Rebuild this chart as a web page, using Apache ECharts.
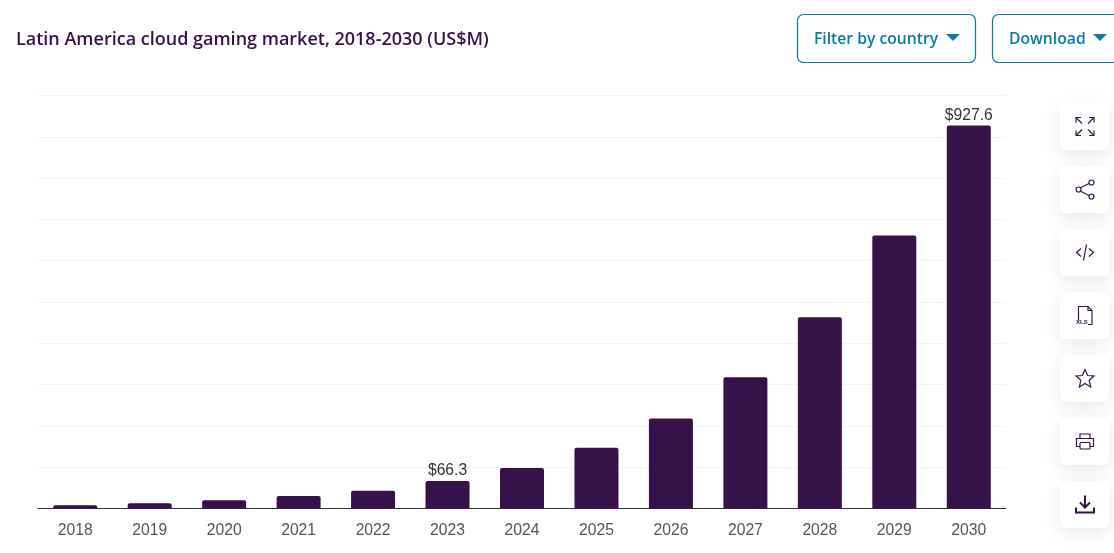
<!DOCTYPE html>
<html lang="en">
<head>
    <meta charset="UTF-8">
    <title>Latin America cloud gaming market</title>
    <script src="https://cdn.jsdelivr.net/npm/echarts@6/dist/echarts.min.js"></script>
    <style>
      html, body { margin: 0; padding: 0; background: #fff; overflow: hidden; }
    </style>
</head>
<body>
<div id="chart" style="width: 1114px; height: 553px;"></div>
<script>
  var titleText = 'Latin America cloud gaming market, 2018-2030 (US$M)';
  var years = ['2018', '2019', '2020', '2021', '2022', '2023', '2024', '2025', '2026', '2027', '2028', '2029', '2030'];
  var revenue = [8, 13, 20, 30, 43, 66.3, 98, 147, 218, 318, 463, 661, 927.6];
  var labelledYears = ['2023', '2030'];

  var purple = '#36114a';
  var teal = '#0b7aa3';

  // toolbar card with the icon drawn around its centre
  function card(cy, shapes) {
    var line = { stroke: purple, lineWidth: 1.15, fill: 'none' };
    return [{
      type: 'rect',
      shape: { x: 1060, y: cy - 23.5, width: 49, height: 47, r: 6 },
      style: { fill: '#fff', shadowBlur: 18, shadowColor: 'rgba(0,0,0,0.09)', shadowOffsetY: 5 }
    }].concat(shapes.map(function (s) {
      var style = Object.assign({}, line, s.style || {});
      return { type: s.type, x: 1085, y: cy, shape: s.shape, style: style };
    }));
  }
  function pl(points, style) {
    return { type: 'polyline', shape: { points: points }, style: style };
  }

  var icons = [
    card(126.5, [
      pl([[-9, -4], [-9, -9], [-4, -9]]), pl([[-8.5, -8.5], [-3, -3]]),
      pl([[4, -9], [9, -9], [9, -4]]), pl([[8.5, -8.5], [3, -3]]),
      pl([[-9, 4], [-9, 9], [-4, 9]]), pl([[-8.5, 8.5], [-3, 3]]),
      pl([[4, 9], [9, 9], [9, 4]]), pl([[8.5, 8.5], [3, 3]])
    ]),
    card(189.5, [
      pl([[-6, -1], [6, -7]]), pl([[-6, 1], [6, 7]]),
      { type: 'circle', shape: { cx: -6.5, cy: 0, r: 2.5 }, style: { fill: '#fff' } },
      { type: 'circle', shape: { cx: 6.5, cy: -7, r: 2.5 }, style: { fill: '#fff' } },
      { type: 'circle', shape: { cx: 6.5, cy: 7, r: 2.5 }, style: { fill: '#fff' } }
    ]),
    card(252.5, [
      pl([[-4, -4], [-8.5, 0], [-4, 4]]), pl([[4, -4], [8.5, 0], [4, 4]]), pl([[1.5, -8], [-1.5, 8]])
    ]),
    card(315.5, [
      pl([[-6.5, 5], [-6.5, -9], [3, -9], [7, -5], [7, 9], [3, 9]]), pl([[3, -9], [3, -5], [7, -5]])
    ].concat([{
      type: 'text', shape: null,
      style: { text: 'XLS', x: -9, y: 4, fontSize: 6, fontWeight: 700, fontFamily: 'Liberation Sans', fill: purple, stroke: null, lineWidth: 0 }
    }])),
    card(378.5, [
      { type: 'polygon', shape: { points: [[0, -9], [2.7, -3], [9, -2.6], [4.2, 1.8], [5.7, 8.5], [0, 5], [-5.7, 8.5], [-4.2, 1.8], [-9, -2.6], [-2.7, -3]] } }
    ]),
    card(441.5, [
      pl([[-5, -3], [-5, -7.5], [5, -7.5], [5, -3]]),
      pl([[-5, 5], [-8.5, 5], [-8.5, -3], [8.5, -3], [8.5, 5], [5, 5]]),
      { type: 'rect', shape: { x: -5, y: 1, width: 10, height: 6.5, r: 1 } }
    ]),
    card(504.5, [
      { type: 'line', shape: { x1: 0, y1: -9, x2: 0, y2: 3 }, style: { lineWidth: 2 } },
      pl([[-5, -2], [0, 3], [5, -2]], { lineWidth: 2 }),
      pl([[-9, 3], [-9, 8], [9, 8], [9, 3]], { lineWidth: 2 })
    ])
  ];
  var iconElements = [].concat.apply([], icons);

  var buttonElements = [
    { type: 'rect', shape: { x: 797.5, y: 14.5, width: 178, height: 48, r: 6 }, style: { fill: '#fff', stroke: teal, lineWidth: 1.2 } },
    { type: 'text', style: { text: 'Filter by country', x: 814, y: 39.5, verticalAlign: 'middle', fontFamily: 'Open Sans', fontWeight: 600, fontSize: 15.7, fill: teal } },
    { type: 'polygon', shape: { points: [[946, 34], [960, 34], [953, 41]] }, style: { fill: teal } },
    { type: 'rect', shape: { x: 992.5, y: 14.5, width: 140, height: 48, r: 6 }, style: { fill: '#fff', stroke: teal, lineWidth: 1.2 } },
    { type: 'text', style: { text: 'Download', x: 1009, y: 39.5, verticalAlign: 'middle', fontFamily: 'Open Sans', fontWeight: 600, fontSize: 15.7, fill: teal } },
    { type: 'polygon', shape: { points: [[1093, 34], [1107, 34], [1100, 41]] }, style: { fill: teal } }
  ];

  var chart = echarts.init(document.getElementById('chart'));
  chart.setOption({
    animation: false,
    backgroundColor: '#fff',
    title: {
      text: titleText,
      left: 16,
      top: 31,
      padding: 0,
      textStyle: { fontFamily: 'Open Sans', fontWeight: 600, fontSize: 18, color: purple }
    },
    grid: { left: 38, right: 108, top: 95.5, bottom: 44.5 },
    xAxis: {
      type: 'category',
      data: years,
      axisTick: { show: false },
      axisLine: { lineStyle: { color: '#333', width: 1 } },
      axisLabel: { margin: 14, fontFamily: 'Liberation Sans', fontSize: 15.7, color: '#555' }
    },
    yAxis: {
      type: 'value',
      min: 0,
      max: 1000,
      interval: 100,
      axisLabel: { show: false },
      axisLine: { show: false },
      axisTick: { show: false },
      splitLine: { lineStyle: { color: '#f3f3f3', width: 1 } }
    },
    series: [{
      type: 'bar',
      data: revenue.map(function (v, i) {
        return {
          value: v,
          label: {
            show: labelledYears.indexOf(years[i]) >= 0,
            position: 'top',
            distance: 2,
            formatter: '$' + v,
            fontFamily: 'Liberation Sans',
            fontSize: 15.7,
            color: '#333'
          }
        };
      }),
      barWidth: 44,
      itemStyle: { color: purple, borderRadius: [2, 2, 0, 0] }
    }],
    graphic: { elements: buttonElements.concat(iconElements) }
  });
</script>
</body>
</html>
